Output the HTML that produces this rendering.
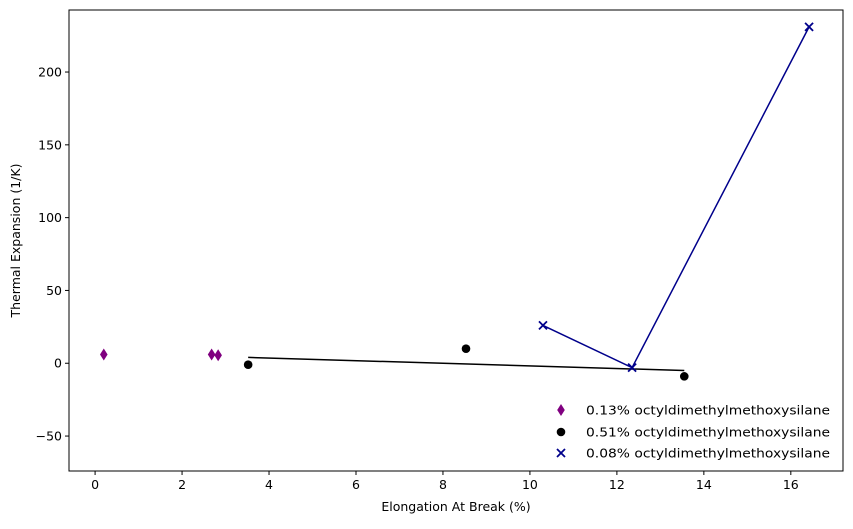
<!DOCTYPE html>
<html><head><meta charset="utf-8"><style>
body{margin:0;background:#fff;font-family:"DejaVu Sans",sans-serif}
svg text{font-family:"DejaVu Sans",sans-serif;font-size:12.5px;fill:#000}
</style></head><body>
<svg id="chart" width="853" height="525">
<g id="axes"></g><g id="marks"></g><g id="legend"></g>
</svg>
<script>
const purpleX=[0.2,2.68,2.83];
const purpleY=[6,6,5.5];
const blackX=[3.52,8.53,13.55];
const blackY=[-1,10,-9];
const blackFitX=[3.52,13.55];
const blackFitY=[4,-5];
const blueX=[10.3,12.35,16.42];
const blueY=[26,-3,231];
const xTicks=[0,2,4,6,8,10,12,14,16];
const yTicks=[-50,0,50,100,150,200];
const legendLabels=["0.13% octyldimethylmethoxysilane","0.51% octyldimethylmethoxysilane","0.08% octyldimethylmethoxysilane"];

const L=69,R=843,T=10,B=471;
const xMin=-0.6,xMax=17.2,yMin=-74,yMax=242.6;
const sx=v=>L+(v-xMin)/(xMax-xMin)*(R-L);
const sy=v=>B-(v-yMin)/(yMax-yMin)*(B-T);
const NS="http://www.w3.org/2000/svg";
function mk(tag,attrs,parent){const e=document.createElementNS(NS,tag);for(const k in attrs)e.setAttribute(k,attrs[k]);parent.appendChild(e);return e;}
const axes=document.getElementById('axes'),marks=document.getElementById('marks'),leg=document.getElementById('legend');

const frame=mk('rect',{x:L,y:T,width:R-L,height:B-T,fill:'none',stroke:'#000','stroke-width':1},axes);


xTicks.forEach(t=>{const x=sx(t);
 const l=mk('line',{x1:x,x2:x,y1:B,y2:B+4,stroke:'#000'},axes);
 
 
 const tx=mk('text',{x:x,y:B+18,'text-anchor':'middle'},axes);tx.textContent=t;
 
 });
yTicks.forEach(t=>{const y=sy(t);
 const l=mk('line',{x1:L-4,x2:L,y1:y,y2:y,stroke:'#000'},axes);
 
 
 const tx=mk('text',{x:L-7,y:y+4.5,'text-anchor':'end'},axes);tx.textContent=t==-50?'\u221250':t;
 
 });
const xt=mk('text',{x:(L+R)/2,y:511,'text-anchor':'middle'},axes);xt.textContent='Elongation At Break (%)';


const yt=mk('text',{x:20,y:(T+B)/2,'text-anchor':'middle',transform:`rotate(-90 20 ${(T+B)/2})`},axes);yt.textContent='Thermal Expansion (1/K)';



function diamond(x,y,c,p){return mk('polygon',{points:`${x},${y-6} ${x+3.8},${y} ${x},${y+6} ${x-3.8},${y}`,fill:c},p);}
function dot(x,y,c,p){return mk('circle',{cx:x,cy:y,r:4.3,fill:c},p);}
function cross(x,y,c,p){const g=mk('g',{stroke:c,'stroke-width':1.8},p);mk('line',{x1:x-4,y1:y-4,x2:x+4,y2:y+4},g);mk('line',{x1:x-4,y1:y+4,x2:x+4,y2:y-4},g);return g;}

const fit=mk('polyline',{points:blackFitX.map((v,i)=>sx(v)+','+sy(blackFitY[i])).join(' '),fill:'none',stroke:'#000','stroke-width':1.5},marks);


const bl=mk('polyline',{points:blueX.map((v,i)=>sx(v)+','+sy(blueY[i])).join(' '),fill:'none',stroke:'#00008b','stroke-width':1.5},marks);


purpleX.forEach((v,i)=>{const e=diamond(sx(v),sy(purpleY[i]),'#800080',marks);
 
 });
blackX.forEach((v,i)=>{const e=dot(sx(v),sy(blackY[i]),'#000',marks);
 
 });
blueX.forEach((v,i)=>{const e=cross(sx(v),sy(blueY[i]),'#00008b',marks);
 
 });

const ly=[410,432,453];
[diamond,dot,cross].forEach((f,i)=>{const e=f(561,ly[i],['#800080','#000','#00008b'][i],leg);
 
 
 const t=mk('text',{x:586,y:ly[i]+4.5,textLength:244,lengthAdjust:'spacingAndGlyphs'},leg);t.textContent=legendLabels[i];
 
 });
</script>
</body></html>
